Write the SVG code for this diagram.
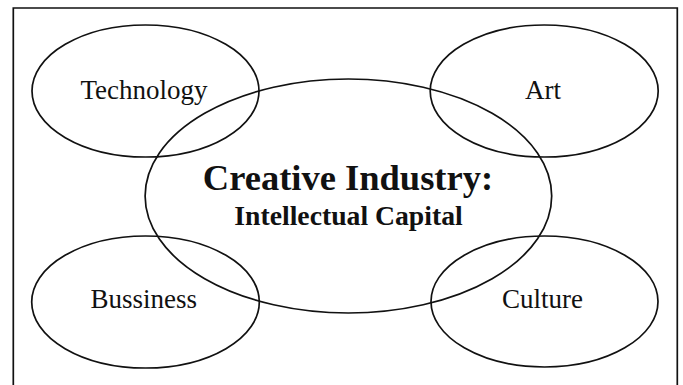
<svg xmlns="http://www.w3.org/2000/svg" width="683" height="385" viewBox="0 0 683 385">
<style>
.e{fill:none;stroke:#111;stroke-width:1.7}
.t{font-family:"Liberation Serif","Times New Roman",serif;font-size:27px;fill:#111;text-anchor:middle}
.b{font-family:"Liberation Serif","Times New Roman",serif;font-weight:bold;fill:#111;text-anchor:middle}
</style>
<rect width="683" height="385" fill="#fff"/>
<path d="M13.3,385 V8 H677.3 V385" fill="none" stroke="#111" stroke-width="1.7"/>
<g id="technology">
<ellipse class="e" cx="145.5" cy="91" rx="113.5" ry="66"/>
<text class="t" x="144" y="99.3">Technology</text>
</g>
<g id="art">
<ellipse class="e" cx="544.2" cy="91" rx="114" ry="66"/>
<text class="t" x="543" y="99.3">Art</text>
</g>
<g id="bussiness">
<ellipse class="e" cx="145.5" cy="302" rx="113.8" ry="66"/>
<text class="t" x="143.8" y="307.7">Bussiness</text>
</g>
<g id="culture">
<ellipse class="e" cx="544.5" cy="301.5" rx="113.5" ry="65.5"/>
<text class="t" x="542.5" y="307.7">Culture</text>
</g>
<g id="creative-industry">
<ellipse class="e" cx="348.4" cy="196" rx="203.3" ry="117"/>
<text class="b" x="348" y="190" font-size="36.5">Creative Industry:</text>
<text class="b" x="348.5" y="225" font-size="27.7">Intellectual Capital</text>
</g>
<g id="connectors"></g>
</svg>
